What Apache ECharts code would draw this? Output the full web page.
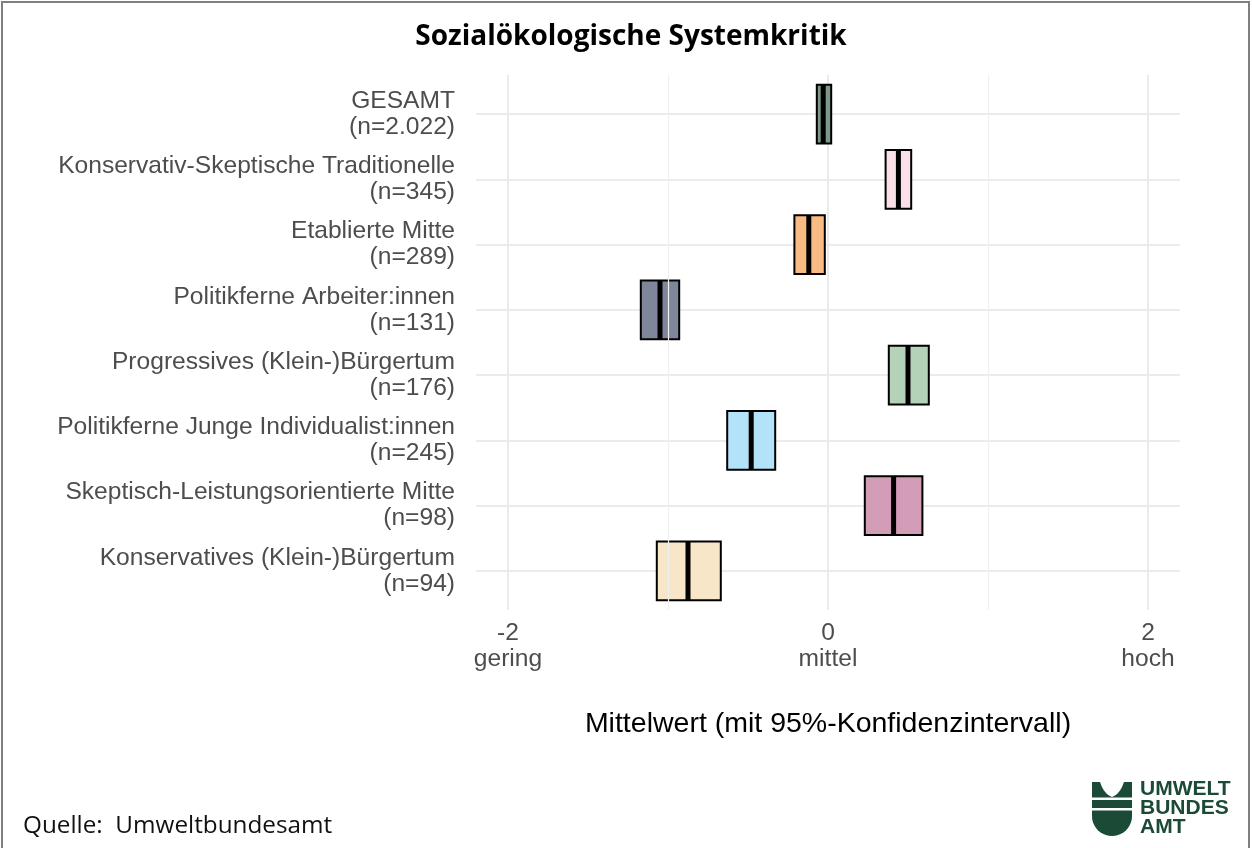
<!DOCTYPE html>
<html><head><meta charset="utf-8">
<script src="https://cdn.jsdelivr.net/npm/echarts@6/dist/echarts.min.js"></script>
<style>html,body{margin:0;padding:0;background:#fff}#c{width:1252px;height:848px}</style>
</head><body><div id="c"></div>
<script>
const categories = ['GESAMT', 'Konservativ-Skeptische Traditionelle', 'Etablierte Mitte', 'Politikferne Arbeiter:innen', 'Progressives (Klein-)Bürgertum', 'Politikferne Junge Individualist:innen', 'Skeptisch-Leistungsorientierte Mitte', 'Konservatives (Klein-)Bürgertum'];
const sampleSizes = ['n=2.022', 'n=345', 'n=289', 'n=131', 'n=176', 'n=245', 'n=98', 'n=94'];
const means = [-0.03, 0.44, -0.12, -1.05, 0.50, -0.48, 0.41, -0.875];
const ciLower = [-0.07, 0.36, -0.21, -1.17, 0.38, -0.63, 0.23, -1.07];
const ciUpper = [0.02, 0.52, -0.02, -0.93, 0.63, -0.33, 0.59, -0.67];
const colors = ['#7d9688', '#fbe1e7', '#f8bb84', '#808699', '#b4d2b8', '#b3e3f8', '#d49db7', '#f7e6c8'];
const xTickValues = [-2, 0, 2];
const xTickNames = ['gering', 'mittel', 'hoch'];
const xMinorValues = [-1, 1];

const catIdx = categories.map((_, i) => i);
const boxData = categories.map((_, i) => [i, ciLower[i], ciUpper[i], means[i]]);
const LOGO = '#1b4a37';

// logo geometry (decorative)
function quad(p0, p1, p2, n) {
  const pts = [];
  for (let k = 1; k <= n; k++) {
    const t = k / n, u = 1 - t;
    pts.push([u * u * p0[0] + 2 * u * t * p1[0] + t * t * p2[0], u * u * p0[1] + 2 * u * t * p1[1] + t * t * p2[1]]);
  }
  return pts;
}
const logoTop = [[1092, 782], [1100, 782]]
  .concat(quad([1100, 782], [1104, 794], [1112, 797], 10))
  .concat(quad([1112, 797], [1120, 794], [1124, 782], 10))
  .concat([[1132, 782], [1132, 797.5], [1092, 797.5]]);
const logoBowl = [[1092, 810.5], [1132, 810.5], [1132, 816]];
for (let k = 1; k < 20; k++) {
  const a = Math.PI * k / 20;
  logoBowl.push([1112 + 20 * Math.cos(a), 816 + 20 * Math.sin(a)]);
}
logoBowl.push([1092, 816]);

const chart = echarts.init(document.getElementById('c'), null, {renderer: 'canvas'});
chart.setOption({
  animation: false,
  backgroundColor: '#fff',
  grid: {left: 476, top: 75, width: 704, height: 535, containLabel: false},
  xAxis: {
    type: 'value', min: -2.2, max: 2.2,
    axisLine: {show: false},
    axisTick: {show: false, customValues: xTickValues},
    axisLabel: {
      customValues: xTickValues,
      formatter: v => v + '\n' + xTickNames[xTickValues.indexOf(v)],
      color: '#4d4d4d', fontSize: 24.6, lineHeight: 26, fontFamily: 'Liberation Sans', margin: 10
    },
    splitLine: {show: true, lineStyle: {color: '#ebebeb', width: 2}},
    name: 'Mittelwert (mit 95%-Konfidenzintervall)',
    nameLocation: 'middle', nameGap: 100,
    nameTextStyle: {color: '#000', fontSize: 28.5, fontFamily: 'Liberation Sans'}
  },
  yAxis: {
    type: 'value', inverse: true, min: -0.6, max: 7.6,
    axisLine: {show: false},
    axisTick: {show: false, customValues: catIdx},
    axisLabel: {
      customValues: catIdx,
      formatter: v => categories[v] + '\n(' + sampleSizes[v] + ')',
      color: '#4d4d4d', fontSize: 24.6, lineHeight: 26, fontFamily: 'Liberation Sans', margin: 21, align: 'right'
    },
    splitLine: {show: true, lineStyle: {color: '#ebebeb', width: 2}}
  },
  series: [
    {
      type: 'line', data: [], z: 1, silent: true, showSymbol: false,
      markLine: {
        silent: true, symbol: 'none', label: {show: false},
        lineStyle: {color: '#f0f0f0', width: 1.2, type: 'solid'},
        data: xMinorValues.map(v => ({xAxis: v}))
      }
    },
    {
      type: 'custom', z: 3, silent: true,
      encode: {x: [1, 2, 3], y: 0},
      data: boxData,
      renderItem: function (params, api) {
        const i = api.value(0);
        const p1 = api.coord([api.value(1), i - 0.45]);
        const p2 = api.coord([api.value(2), i + 0.45]);
        const pm = api.coord([api.value(3), i]);
        const top = Math.min(p1[1], p2[1]);
        const h = Math.abs(p2[1] - p1[1]);
        return {
          type: 'group', children: [
            {type: 'rect', shape: {x: p1[0], y: top, width: p2[0] - p1[0], height: h},
              style: {fill: colors[i], stroke: '#000', lineWidth: 2}},
            {type: 'line', shape: {x1: pm[0], y1: top, x2: pm[0], y2: top + h},
              style: {stroke: '#000', lineWidth: 5}}
          ]
        };
      }
    }
  ],
  graphic: [
    {type: 'rect', shape: {x: 2, y: 2, width: 1247, height: 900},
      style: {fill: 'none', stroke: '#7f7f7f', lineWidth: 2}, silent: true},
    {type: 'text', x: 631, y: 37, style: {text: 'Sozialökologische Systemkritik', fontFamily: 'Open Sans',
      fontWeight: 'bold', fontSize: 28, fill: '#000', align: 'center', verticalAlign: 'middle'}},
    {type: 'text', x: 23, y: 826, style: {text: 'Quelle:  Umweltbundesamt', fontFamily: 'Open Sans',
      fontSize: 24.3, fill: '#111', align: 'left', verticalAlign: 'middle'}},
    {type: 'polygon', shape: {points: logoTop}, style: {fill: LOGO}},
    {type: 'rect', shape: {x: 1092, y: 800, width: 40, height: 8}, style: {fill: LOGO}},
    {type: 'polygon', shape: {points: logoBowl}, style: {fill: LOGO}},
    {type: 'text', x: 1140, y: 789, style: {text: 'UMWELT', fontFamily: 'Liberation Sans', fontWeight: 'bold',
      fontSize: 21, fill: LOGO, verticalAlign: 'middle'}},
    {type: 'text', x: 1140, y: 808, style: {text: 'BUNDES', fontFamily: 'Liberation Sans', fontWeight: 'bold',
      fontSize: 21, fill: LOGO, verticalAlign: 'middle'}},
    {type: 'text', x: 1140, y: 827, style: {text: 'AMT', fontFamily: 'Liberation Sans', fontWeight: 'bold',
      fontSize: 21, fill: LOGO, verticalAlign: 'middle'}}
  ]
});
</script></body></html>
